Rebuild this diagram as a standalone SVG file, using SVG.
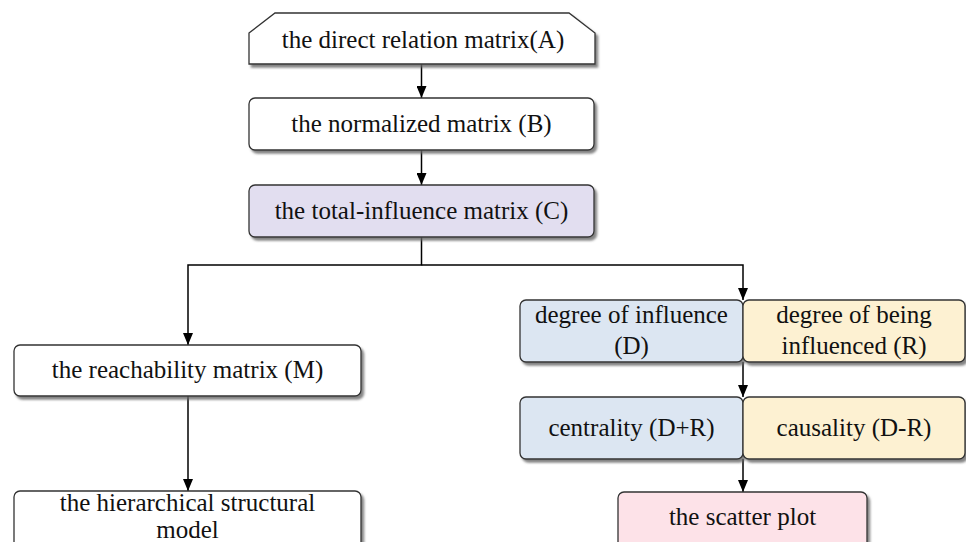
<svg xmlns="http://www.w3.org/2000/svg" width="966" height="542" viewBox="0 0 966 542">
<defs>
<filter id="sh" x="-5%" y="-10%" width="115%" height="130%">
<feDropShadow dx="2.5" dy="3" stdDeviation="1.2" flood-color="#666" flood-opacity="0.8"/>
</filter>
<marker id="ah" viewBox="0 0 12 10" refX="12" refY="5" markerWidth="12" markerHeight="10" markerUnits="userSpaceOnUse" orient="auto">
<path d="M0,0 L12,5 L0,10 Z" fill="#000"/>
</marker>
<style>
.box{stroke:#333;stroke-width:1.3;filter:url(#sh)}
.w{fill:#fff}.p{fill:#e2def0}.b{fill:#dce6f2}.y{fill:#fdf1d2}.k{fill:#fde2e8}
.c{fill:none;stroke:#000;stroke-width:1.5}
</style>
</defs>
<rect width="966" height="542" fill="#fff"/>
<g id="connectors">
<path class="c" d="M421.5,64 V98" marker-end="url(#ah)"/>
<path class="c" d="M421.5,150 V185" marker-end="url(#ah)"/>
<path class="c" d="M421.5,237 V265 H188 V345" marker-end="url(#ah)"/>
<path class="c" d="M421.5,265 H743 V300" marker-end="url(#ah)"/>
<path class="c" d="M188,396 V491" marker-end="url(#ah)"/>
<path class="c" d="M743,362 V397" marker-end="url(#ah)"/>
<path class="c" d="M743,459 V492" marker-end="url(#ah)"/>
</g>
<g font-family="Liberation Serif, Times New Roman, serif" font-size="25" fill="#111" text-anchor="middle">
<g id="nodeA">
<path class="box w" d="M249,33 L275,13 H569 L595,33 V64 H249 Z"/>
<text x="423" y="48">the direct relation matrix(A)</text>
</g>
<g id="nodeB">
<rect class="box w" x="249" y="98" width="345" height="52" rx="6"/>
<text x="421.5" y="132">the normalized matrix (B)</text>
</g>
<g id="nodeC">
<rect class="box p" x="249" y="185" width="345" height="52" rx="6"/>
<text x="421.5" y="219">the total-influence matrix (C)</text>
</g>
<g id="nodeM">
<rect class="box w" x="14" y="345" width="347" height="51" rx="6"/>
<text x="187.5" y="378">the reachability matrix (M)</text>
</g>
<g id="nodeH">
<rect class="box w" x="14" y="491" width="347" height="70" rx="6"/>
<text x="187.5" y="511">the hierarchical structural</text>
<text x="187.5" y="538">model</text>
</g>
<g id="nodeD">
<rect class="box b" x="520" y="300" width="223" height="62" rx="6"/>
<text x="631.5" y="323">degree of influence</text>
<text x="631.5" y="354">(D)</text>
</g>
<g id="nodeR">
<rect class="box y" x="743" y="300" width="222" height="62" rx="6"/>
<text x="854" y="323">degree of being</text>
<text x="854" y="354">influenced (R)</text>
</g>
<g id="nodeDR">
<rect class="box b" x="520" y="397" width="223" height="62" rx="6"/>
<text x="631.5" y="436">centrality (D+R)</text>
</g>
<g id="nodeCaus">
<rect class="box y" x="743" y="397" width="222" height="62" rx="6"/>
<text x="854" y="436">causality (D-R)</text>
</g>
<g id="nodeS">
<rect class="box k" x="618" y="492" width="249" height="70" rx="6"/>
<text x="742.5" y="525">the scatter plot</text>
</g>
</g>
</svg>
